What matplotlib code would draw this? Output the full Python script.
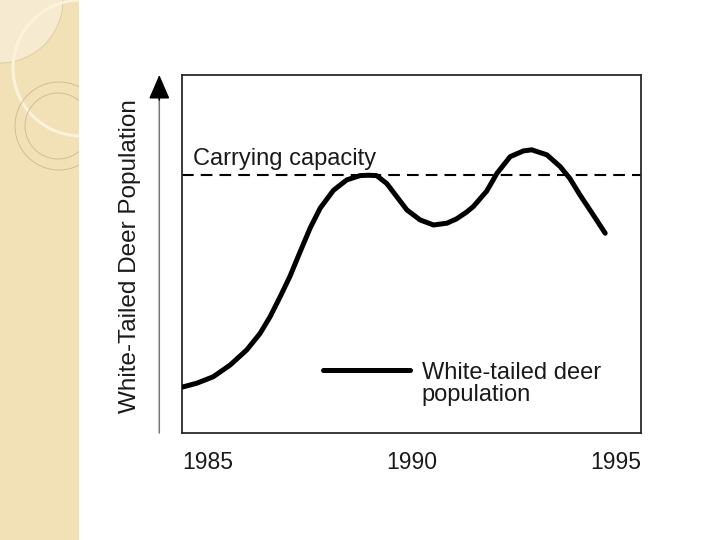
import matplotlib
matplotlib.use('Agg')
import matplotlib.pyplot as plt
from matplotlib.patches import Rectangle, Circle

# deer population (year, arbitrary population units 0-100)
years = [1985.0, 1985.32, 1985.68, 1986.05, 1986.41, 1986.70, 1986.92, 1987.14,
         1987.35, 1987.56, 1987.79, 1988.01, 1988.30, 1988.59, 1988.88, 1989.06,
         1989.24, 1989.46, 1989.68, 1989.90, 1990.19, 1990.48, 1990.77, 1990.98,
         1991.20, 1991.35, 1991.64, 1991.86, 1992.15, 1992.44, 1992.62, 1992.95,
         1993.24, 1993.45, 1993.67, 1993.96, 1994.22]
deer = [12.8, 13.9, 15.7, 19.0, 23.2, 27.8, 32.5, 38.1,
        43.7, 50.2, 57.2, 62.8, 67.8, 70.7, 71.9, 72.0,
        71.9, 69.7, 66.0, 62.3, 59.5, 58.1, 58.6, 59.8,
        61.7, 63.3, 67.6, 72.5, 77.2, 78.8, 79.1, 77.7,
        74.4, 71.1, 66.5, 60.9, 55.8]
carrying_capacity = 72.1
year_ticks = [1985, 1990, 1995]
tick_labels = ['1985', '1990', '1995']

plt.rcParams['font.family'] = ['Liberation Sans', 'DejaVu Sans']
txt = '#1a1a1a'

fig = plt.figure(figsize=(7.2, 5.4), dpi=100)
fig.patch.set_facecolor('white')

# slide decoration + y arrow, drawn in pixel coordinates
bg = fig.add_axes([0, 0, 1, 1], zorder=-1)
bg.set_xlim(0, 720)
bg.set_ylim(540, 0)
bg.axis('off')
strip = Rectangle((0, 0), 79, 540, facecolor='#F2E0B6', edgecolor='none')
bg.add_patch(strip)
deco = [
    Circle((0, 0), 63, facecolor='#F6EAD0', edgecolor='#D6C59C', lw=0.5),
    Circle((81, 68), 68, facecolor='none', edgecolor='#FBF3DC', lw=2.2),
    Circle((59, 126), 44, facecolor='none', edgecolor='#CDB88E', lw=0.6),
    Circle((58, 126), 33, facecolor='none', edgecolor='#CDB88E', lw=0.6),
]
for p in deco:
    bg.add_patch(p)
    p.set_clip_path(strip)

bg.annotate('', xy=(159.3, 92), xytext=(159.3, 433),
            arrowprops=dict(arrowstyle='-', color='#777777', lw=1.1,
                            shrinkA=0, shrinkB=0))
bg.annotate('', xy=(159.3, 75), xytext=(159.3, 100),
            arrowprops=dict(arrowstyle='-|>,head_length=1.5,head_width=0.65',
                            color='black', lw=1.1, shrinkA=0, shrinkB=0,
                            mutation_scale=10))

fig.text(130 / 720, 1 - 256.5 / 540, 'White-Tailed Deer Population',
         rotation=90, ha='center', va='center', fontsize=17.5, color=txt)

ax = fig.add_axes([182 / 720, 1 - 433 / 540, 459 / 720, 358 / 540])
ax.set_facecolor('white')
ax.set_xlim(1985, 1995)
ax.set_ylim(0, 100)

ax.axhline(carrying_capacity, color='black', lw=1.5, ls=(0, (5.6, 3.4)), zorder=2)
ax.text(1985.24, 74.9, 'Carrying capacity', fontsize=17, color=txt,
        ha='left', va='baseline')

ax.plot(years, deer, color='black', lw=3.6, solid_joinstyle='round',
        solid_capstyle='round', label='White-tailed deer\npopulation', zorder=3)

leg = ax.legend(loc='upper left', bbox_to_anchor=(0.3072, 0.199), frameon=False,
                fontsize=17, handlelength=3.68, handletextpad=0.5,
                borderpad=0, borderaxespad=0)
for col in leg._legend_handle_box.get_children():
    for row in col.get_children():
        row.align = 'top'
for t in leg.texts:
    t.set_linespacing(1.0)
    t.set_color(txt)

ax.set_xticks(year_ticks)
ax.set_xticklabels(tick_labels)
ax.set_yticks([])
ax.tick_params(axis='x', length=0, pad=13, labelsize=16.5, labelcolor=txt)
labs = ax.get_xticklabels()
labs[0].set_ha('left')
labs[-1].set_ha('right')

for s in ax.spines.values():
    s.set_color('#2a2a2a')
    s.set_linewidth(1.3)

fig.savefig('out.png', dpi=100)
